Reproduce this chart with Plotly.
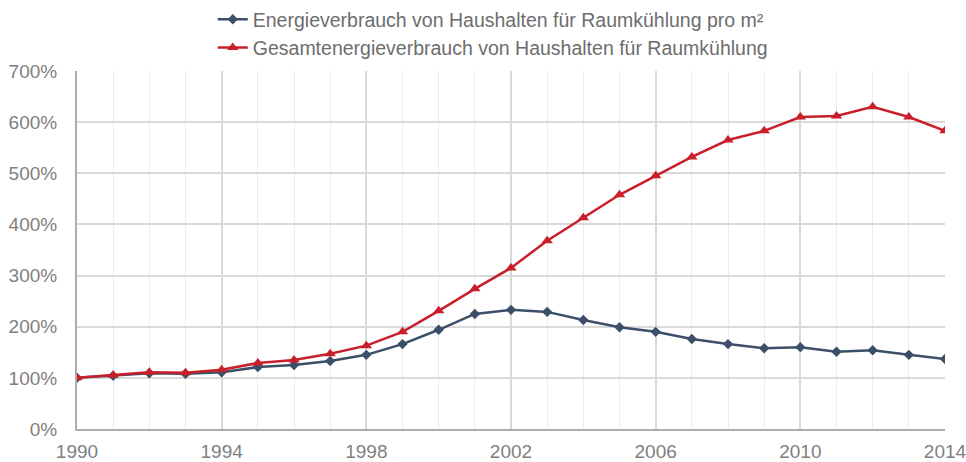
import plotly.graph_objects as go

years = list(range(1990, 2015))
per_m2 = [100, 104, 109, 108, 111, 121, 125, 133, 145, 166, 194, 225, 233, 229, 213,
          199, 190, 176, 166, 158, 160, 151, 154, 145, 137]
total = [100, 105, 111, 110, 116, 129, 135, 147, 163, 190, 231, 274, 315, 368, 413,
         458, 495, 532, 565, 583, 610, 612, 630, 610, 583]
names = ["Energieverbrauch von Haushalten für Raumkühlung pro m²",
         "Gesamtenergieverbrauch von Haushalten für Raumkühlung"]
y_ticks = [0, 100, 200, 300, 400, 500, 600, 700]
y_labels = [f"{v}%" for v in y_ticks]

fig = go.Figure()
fig.add_trace(go.Scatter(x=years, y=per_m2, name=names[0], mode="lines+markers",
                         line=dict(color="#3b4f68", width=2.5),
                         marker=dict(symbol="diamond", size=8, color="#3b4f68")))
fig.add_trace(go.Scatter(x=years, y=total, name=names[1], mode="lines+markers",
                         line=dict(color="#c81f2a", width=2.5),
                         marker=dict(symbol="triangle-up", size=10, color="#c81f2a")))

font = "Liberation Sans, Arial, sans-serif"
fig.update_layout(
    width=966, height=462,
    margin=dict(l=77, r=21, t=71, b=33, autoexpand=False),
    paper_bgcolor="white", plot_bgcolor="white",
    font=dict(family=font, size=19, color="#7f7f7f"),
    showlegend=True,
    legend=dict(orientation="v", x=0.479, xanchor="center", y=1.0, yanchor="top",
                yref="container",
                font=dict(size=19.5, color="#6d6d6d"),
                tracegroupgap=0, bgcolor="rgba(0,0,0,0)"),
    xaxis=dict(range=[1990, 2014], tickmode="linear", tick0=1990, dtick=4,
               showgrid=True, gridcolor="#d9d9d9", gridwidth=1.5,
               minor=dict(dtick=1, showgrid=True, gridcolor="#ececec", gridwidth=1),
               showline=True, linecolor="#a9aeae", linewidth=2,
               zeroline=False, ticks="outside", ticklen=4, tickcolor="rgba(0,0,0,0)",
               automargin=False, ticklabeloverflow="allow",
               tickfont=dict(size=19, color="#7f7f7f")),
    yaxis=dict(range=[0, 700], tickmode="array", tickvals=y_ticks, ticktext=y_labels,
               showgrid=True, gridcolor="#d9d9d9", gridwidth=1.5,
               showline=True, linecolor="#a9aeae", linewidth=2,
               zeroline=False, ticks="outside", ticklen=14, tickcolor="rgba(0,0,0,0)",
               automargin=False, ticklabeloverflow="allow",
               tickfont=dict(size=19, color="#7f7f7f")),
)

fig.write_html("out.html", config={"displayModeBar": False},
               post_script="document.body.style.margin='0';document.body.style.overflow='hidden';")
